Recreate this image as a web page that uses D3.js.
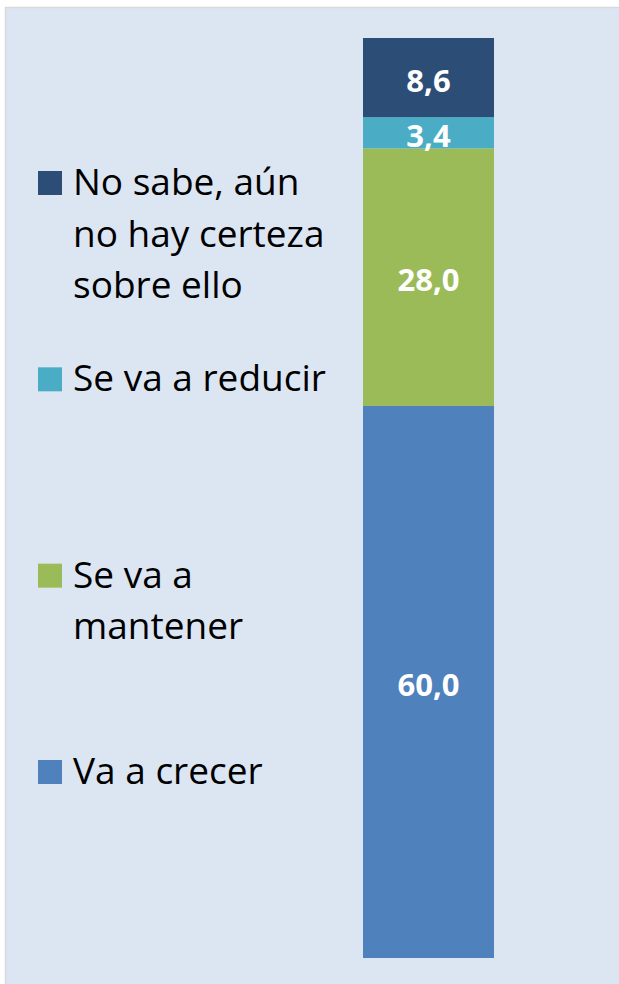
<!DOCTYPE html>
<html>
<head>
<meta charset="utf-8">
<script src="https://cdn.jsdelivr.net/npm/d3@7"></script>
<style>
  html, body { margin: 0; padding: 0; background: #ffffff; }
  svg { display: block; }
</style>
</head>
<body>
<div id="chart"></div>
<script>
// series in stacking order (bottom to top)
const seriesKeys = ['crecer', 'mantener', 'reducir', 'nosabe'];
const seriesLabels = [
  ['Va a crecer'],
  ['Se va a', 'mantener'],
  ['Se va a reducir'],
  ['No sabe, aún', 'no hay certeza', 'sobre ello']
];
const seriesColors = ['#4f81bd', '#9bbb59', '#4bacc6', '#2c4d76'];
const seriesValues = [60.0, 28.0, 3.4, 8.6];
const category = ['Total'];

const W = 619, H = 984;

const svg = d3.select('#chart').append('svg')
  .attr('width', W)
  .attr('height', H);

// chart area background with light border
svg.append('rect')
  .attr('x', 5.5).attr('y', 7.5)
  .attr('width', W).attr('height', H)
  .attr('fill', '#dce6f2')
  .attr('stroke', '#d9d9d9')
  .attr('stroke-width', 1.5);

// build the row for the stack
const row = { cat: category[0] };
seriesKeys.forEach((k, i) => { row[k] = seriesValues[i]; });
const stacked = d3.stack().keys(seriesKeys)([row]);

const x = d3.scaleBand()
  .domain(category)
  .range([363, 494])
  .padding(0);

const y = d3.scaleLinear()
  .domain([0, 100])
  .range([958, 38]);

const color = d3.scaleOrdinal().domain(seriesKeys).range(seriesColors);

// bar segments
const layers = svg.selectAll('.layer')
  .data(stacked)
  .enter()
  .append('g')
  .attr('class', 'layer')
  .attr('fill', d => color(d.key));

layers.selectAll('rect')
  .data(d => d)
  .enter()
  .append('rect')
  .attr('x', d => x(d.data.cat))
  .attr('y', d => y(d[1]))
  .attr('width', x.bandwidth())
  .attr('height', d => y(d[0]) - y(d[1]));

// value labels, centred in each segment
const fmt = v => d3.format('.1f')(v).replace('.', ',');
layers.selectAll('text')
  .data(d => d.map(s => ({ s: s, v: d.key })))
  .enter()
  .append('text')
  .attr('x', d => x(d.s.data.cat) + x.bandwidth() / 2)
  .attr('y', d => (y(d.s[0]) + y(d.s[1])) / 2 + 2)
  .attr('text-anchor', 'middle')
  .attr('dominant-baseline', 'central')
  .attr('fill', '#ffffff')
  .style('font-family', '"Open Sans", "Noto Sans", sans-serif')
  .style('font-weight', 'bold')
  .style('font-size', '31px')
  .text(d => fmt(d.s.data[d.v]));

// legend, top entry is the top segment
const legendOrder = seriesKeys.slice().reverse();
const ly = d3.scalePoint()
  .domain(legendOrder)
  .range([183, 772]);

const legend = svg.selectAll('.legend')
  .data(legendOrder)
  .enter()
  .append('g')
  .attr('class', 'legend')
  .attr('transform', k => `translate(38,${ly(k)})`);

legend.append('rect')
  .attr('x', 0).attr('y', -12)
  .attr('width', 24).attr('height', 24)
  .attr('fill', k => color(k));

legend.append('text')
  .attr('x', 35)
  .attr('y', 12)
  .attr('fill', '#000000')
  .style('font-family', '"Open Sans", "Noto Sans", sans-serif')
  .style('font-size', '37px')
  .selectAll('tspan')
  .data(k => seriesLabels[seriesKeys.indexOf(k)])
  .enter()
  .append('tspan')
  .attr('x', 35)
  .attr('dy', (d, i) => i === 0 ? 0 : 51.5)
  .text(d => d);
</script>
</body>
</html>
